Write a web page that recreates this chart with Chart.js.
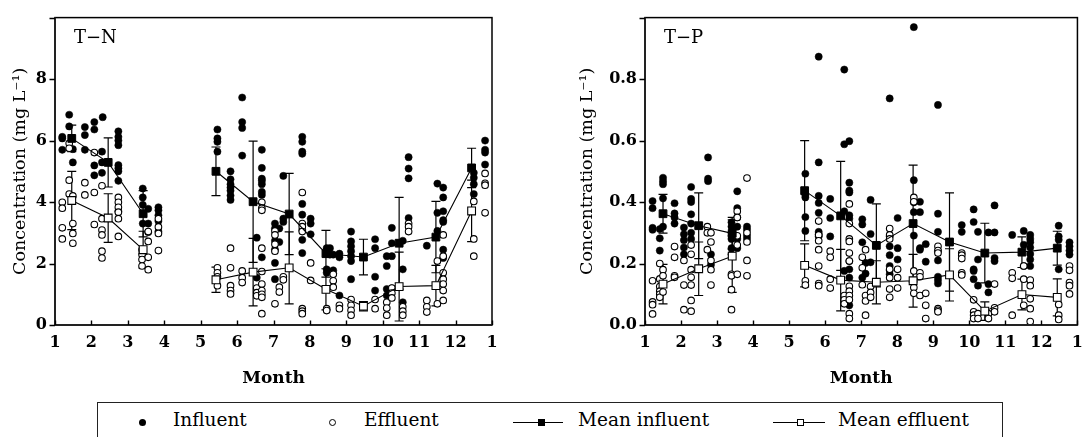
<!DOCTYPE html>
<html>
<head>
<meta charset="utf-8">
<script src="https://cdn.jsdelivr.net/npm/chart.js@4.4.1/dist/chart.umd.min.js"></script>
<style>
  html,body{margin:0;padding:0;background:#fff;}
  body{width:1091px;height:437px;overflow:hidden;position:relative;font-family:"DejaVu Serif",serif;color:#000;}
  canvas{position:absolute;top:0;}
  #legendBox{position:absolute;left:97px;top:402px;width:906px;height:60px;border:1.5px solid #222;box-sizing:border-box;}
  .lt{position:absolute;top:411px;font-size:18.5px;line-height:18.5px;white-space:nowrap;}
  .sym{position:absolute;box-sizing:border-box;}
</style>
</head>
<body>
<canvas id="tn" width="545" height="400" style="left:0"></canvas>
<canvas id="tp" width="546" height="400" style="left:545px"></canvas>
<div id="legendBox"></div>
<div class="sym" style="left:139px;top:419px;width:7px;height:7px;border-radius:50%;background:#000"></div>
<div class="lt" style="left:173px">Influent</div>
<div class="sym" style="left:329px;top:419px;width:7px;height:7px;border-radius:50%;border:1px solid #000;background:#fff"></div>
<div class="lt" style="left:364px">Effluent</div>
<div class="sym" style="left:513px;top:422px;width:50px;height:1.3px;background:#000"></div>
<div class="sym" style="left:538px;top:419px;width:7px;height:7px;background:#000"></div>
<div class="lt" style="left:578px">Mean influent</div>
<div class="sym" style="left:773px;top:422px;width:52px;height:1.3px;background:#000"></div>
<div class="sym" style="left:797px;top:419px;width:7px;height:7px;border:1px solid #000;background:#fff"></div>
<div class="lt" style="left:838px">Mean effluent</div>
<script>
// ---------------- DATA ----------------
const monthTicks = [1,2,3,4,5,6,7,8,9,10,11,12,13];
const monthLabels = ['1','2','3','4','5','6','7','8','9','10','11','12','1'];

// T-N  [month, mg/L]
const tnInfluent = [
 [1.20,6.12],[1.20,6.07],[1.20,5.70],[1.39,6.84],[1.39,6.46],[1.49,5.72],[1.49,5.29],
 [1.82,6.44],[1.82,6.18],[1.82,5.70],
 [2.08,6.60],[2.08,6.36],[2.08,5.19],[2.08,4.87],
 [2.31,6.76],[2.29,5.64],[2.29,5.29],[2.29,4.95],
 [2.74,6.30],[2.74,6.12],[2.74,6.00],[2.74,5.85],[2.74,5.20],[2.74,5.10],[2.74,5.00],[2.74,4.69],[2.74,3.70],
 [3.41,4.44],[3.41,4.15],[3.41,3.91],[3.41,3.30],
 [3.56,3.78],[3.56,3.30],[3.56,3.02],
 [3.84,3.83],[3.84,3.73],[3.84,3.57],[3.84,3.38],[3.84,3.04],
 [5.46,6.36],[5.46,6.07],[5.46,5.96],[5.46,5.64],
 [5.82,5.00],[5.82,4.74],[5.82,4.58],[5.82,4.47],[5.82,4.37],[5.82,4.21],[5.82,4.07],
 [6.14,7.40],[6.14,6.60],[6.14,6.41],[6.14,5.51],
 [6.54,2.84],[6.54,1.54],
 [6.68,5.70],[6.68,5.11],[6.68,4.76],[6.68,4.69],[6.68,4.58],[6.68,4.33],[6.68,4.23],[6.68,2.20],
 [7.04,3.30],[7.04,3.14],[7.04,2.74],[7.04,2.45],[7.04,2.02],[7.04,1.49],
 [7.16,3.14],[7.16,2.70],
 [7.27,4.85],[7.27,3.46],[7.27,3.35],
 [7.79,6.12],[7.79,5.96],[7.79,5.64],[7.79,5.57],[7.79,3.94],[7.79,3.59],[7.79,3.09],[7.79,2.77],[7.79,2.34],
 [8.02,3.46],[8.02,3.30],[8.02,2.95],
 [8.46,2.50],[8.46,2.32],[8.46,1.81],[8.46,1.70],
 [8.55,2.50],[8.55,2.29],
 [8.64,2.29],[8.64,1.78],[8.64,1.67],
 [8.81,2.32],[8.81,2.20],[8.81,0.96],
 [9.13,3.04],[9.13,2.72],[9.13,2.56],[9.13,2.40],[9.13,2.24],[9.13,2.08],[9.13,1.49],
 [9.79,2.79],[9.79,2.50],[9.79,1.57],[9.79,1.12],
 [10.11,2.24],[10.11,1.92],[10.11,1.17],[10.11,0.96],
 [10.25,3.16],[10.25,2.66],[10.25,2.24],[10.25,1.19],
 [10.55,2.74],[10.55,1.81],[10.55,0.74],
 [10.71,5.46],[10.71,5.09],[10.71,4.77],[10.71,3.48],
 [11.21,2.58],
 [11.50,4.60],[11.50,3.65],[11.50,3.06],
 [11.66,4.47],[11.66,4.15],[11.66,3.70],[11.66,3.41],[11.66,3.35],[11.66,2.45],[11.66,2.18],
 [12.50,4.95],[12.50,4.79],[12.50,4.58],[12.50,4.26],
 [12.81,6.00],[12.81,5.70],[12.81,5.61],[12.81,5.22]
];
const tnEffluent = [
 [1.20,3.99],[1.20,3.80],[1.20,3.16],[1.20,2.80],
 [1.39,5.91],[1.39,5.75],[1.39,4.71],[1.39,4.26],
 [1.49,4.20],[1.49,3.30],[1.49,2.98],[1.49,2.66],
 [1.82,4.63],[1.82,4.23],
 [2.08,5.61],[2.08,4.31],[2.08,3.27],
 [2.29,4.53],[2.29,3.46],[2.29,3.09],[2.29,2.93],[2.29,2.40],[2.29,2.18],
 [2.74,4.15],[2.74,3.99],[2.74,3.83],[2.74,3.67],[2.74,3.46],[2.74,2.88],
 [3.39,2.45],[3.39,2.29],[3.39,2.13],[3.39,1.92],
 [3.56,3.04],[3.56,2.72],[3.56,2.20],[3.56,1.80],
 [3.84,3.46],[3.84,3.19],[3.84,2.98],[3.84,2.42],
 [5.46,1.86],[5.46,1.70],[5.46,1.57],[5.46,1.28],
 [5.82,2.50],[5.82,1.86],[5.82,1.28],[5.82,1.12],[5.82,1.01],
 [6.14,1.76],[6.14,1.54],[6.14,1.38],
 [6.54,1.20],[6.54,1.05],[6.54,0.95],
 [6.68,3.99],[6.68,3.80],[6.68,3.73],[6.68,2.50],[6.68,1.74],[6.68,1.33],[6.68,1.12],[6.68,1.00],[6.68,0.90],[6.68,0.37],
 [7.04,3.06],[7.04,2.93],[7.04,2.63],[7.04,2.40],[7.04,0.69],
 [7.16,1.23],[7.16,1.07],
 [7.27,1.57],[7.27,1.47],
 [7.79,4.31],[7.79,3.30],[7.79,3.20],[7.79,3.04],[7.79,0.53],[7.79,0.45],[7.79,0.37],
 [8.02,2.02],[8.02,1.45],
 [8.46,0.53],[8.46,0.47],
 [8.64,1.65],[8.64,1.44],[8.64,1.23],
 [8.81,0.64],[8.81,0.53],
 [9.13,0.83],[9.13,0.64],[9.13,0.48],[9.13,0.32],
 [9.79,0.83],[9.79,0.53],
 [10.11,0.74],[10.11,0.55],[10.11,0.32],
 [10.25,1.20],[10.25,1.04],[10.25,0.88],
 [10.55,0.59],[10.55,0.45],[10.55,0.32],
 [10.71,3.30],[10.71,3.20],[10.71,3.04],
 [11.21,0.80],[11.21,0.59],[11.21,0.42],
 [11.50,2.08],[11.50,0.69],
 [11.66,2.93],[11.66,2.24],[11.66,1.70],[11.66,1.49],[11.66,1.33],[11.66,1.12],[11.66,0.80],
 [12.50,4.02],[12.50,2.80],[12.50,2.24],
 [12.81,4.93],[12.81,4.61],[12.81,4.55],[12.81,3.65]
];
const tnMeanMonths   = [1.46,2.46,3.42,5.42,6.44,7.43,8.44,9.47,10.45,11.46,12.44];
const tnMeanInfluent = [6.07,5.29,3.62,5.00,4.01,3.61,2.32,2.21,2.66,2.86,5.11];
const tnSdInfluent   = [0.43,0.80,0.75,0.79,1.97,1.32,0.76,0.58,1.49,1.16,0.64];
const tnMeanEffluent = [4.05,3.48,2.45,1.47,1.72,1.86,1.16,0.61,1.25,1.28,3.71];
const tnSdEffluent   = [0.95,0.79,0.60,0.41,1.10,1.17,0.67,0.15,1.12,0.66,1.00];

// T-P  [month, mg/L]
const tpInfluent = [
 [1.21,0.403],[1.21,0.380],[1.21,0.316],[1.21,0.310],
 [1.41,0.312],[1.41,0.282],[1.41,0.242],
 [1.50,0.479],[1.50,0.468],[1.50,0.458],[1.50,0.412],[1.50,0.320],
 [1.82,0.396],[1.82,0.363],[1.82,0.350],[1.82,0.330],
 [2.08,0.317],[2.08,0.295],[2.08,0.276],[2.08,0.252],[2.08,0.230],
 [2.28,0.449],[2.28,0.410],[2.28,0.400],[2.28,0.360],[2.28,0.330],[2.28,0.300],[2.28,0.280],
 [2.75,0.545],[2.75,0.476],[2.75,0.468],
 [2.83,0.230],[2.83,0.196],
 [3.40,0.334],[3.40,0.320],[3.40,0.300],[3.40,0.290],[3.40,0.280],[3.40,0.250],[3.40,0.230],
 [3.56,0.435],[3.56,0.380],[3.56,0.350],[3.56,0.320],[3.56,0.280],[3.56,0.250],
 [3.83,0.320],[3.83,0.310],[3.83,0.290],[3.83,0.280],
 [5.45,0.492],[5.45,0.423],[5.45,0.415],[5.45,0.351],[5.45,0.306],
 [5.82,0.873],[5.82,0.529],[5.82,0.420],[5.82,0.397],[5.82,0.365],[5.82,0.303],[5.82,0.295],[5.82,0.288],
 [6.14,0.410],[6.14,0.348],[6.14,0.288],
 [6.53,0.831],[6.53,0.588],[6.53,0.370],[6.53,0.176],
 [6.67,0.598],[6.67,0.463],[6.67,0.437],[6.67,0.431],[6.67,0.357],[6.67,0.346],[6.67,0.208],[6.67,0.181],[6.67,0.154],[6.67,0.064],
 [7.03,0.344],[7.03,0.327],[7.03,0.269],[7.03,0.154],
 [7.12,0.202],[7.12,0.167],
 [7.26,0.407],[7.26,0.296],[7.26,0.204],
 [7.79,0.737],[7.79,0.288],[7.79,0.256],[7.79,0.227],[7.79,0.192],[7.79,0.178],[7.79,0.165],
 [8.01,0.348],[8.01,0.250],[8.01,0.213],
 [8.46,0.969],[8.46,0.471],[8.46,0.399],[8.46,0.367],[8.46,0.291],
 [8.63,0.401],[8.63,0.367],[8.63,0.245],[8.63,0.250],
 [8.79,0.263],[8.79,0.206],
 [9.13,0.716],[9.13,0.362],[9.13,0.303],[9.13,0.240],[9.13,0.210],[9.13,0.157],[9.13,0.146],[9.13,0.135],
 [9.79,0.325],[9.79,0.303],
 [10.12,0.376],[10.12,0.335],[10.12,0.181],[10.12,0.176],[10.12,0.149],
 [10.24,0.303],[10.24,0.213],[10.24,0.128],
 [10.53,0.301],[10.53,0.133],[10.53,0.106],
 [10.70,0.389],[10.70,0.301],[10.70,0.218],[10.70,0.208],
 [11.19,0.293],
 [11.51,0.306],[11.51,0.261],[11.51,0.192],
 [11.69,0.293],[11.69,0.280],[11.69,0.269],[11.69,0.252],[11.69,0.231],[11.69,0.213],[11.69,0.192],
 [12.48,0.323],[12.48,0.288],[12.48,0.277],[12.48,0.181],
 [12.78,0.269],[12.78,0.256],[12.78,0.242],[12.78,0.229]
];
const tpEffluent = [
 [1.21,0.144],[1.21,0.075],[1.21,0.066],[1.21,0.036],
 [1.41,0.200],[1.41,0.150],[1.41,0.125],[1.41,0.110],[1.41,0.100],[1.41,0.090],
 [1.50,0.180],[1.50,0.160],[1.50,0.107],
 [1.82,0.255],[1.82,0.220],[1.82,0.160],[1.82,0.155],
 [2.08,0.210],[2.08,0.130],[2.08,0.050],
 [2.28,0.260],[2.28,0.230],[2.28,0.180],[2.28,0.155],[2.28,0.130],[2.28,0.080],[2.28,0.045],
 [2.73,0.320],[2.73,0.300],[2.73,0.245],
 [2.83,0.300],[2.83,0.270],[2.83,0.210],[2.83,0.180],[2.83,0.130],
 [3.40,0.165],[3.40,0.160],[3.40,0.115],[3.40,0.050],
 [3.56,0.370],[3.56,0.350],[3.56,0.290],[3.56,0.260],[3.56,0.165],
 [3.83,0.478],[3.83,0.300],[3.83,0.270],[3.83,0.210],[3.83,0.160],
 [5.45,0.144],[5.45,0.130],
 [5.82,0.338],[5.82,0.293],[5.82,0.274],[5.82,0.245],[5.82,0.192],[5.82,0.135],[5.82,0.128],
 [6.14,0.240],[6.14,0.220],[6.14,0.149],[6.14,0.120],
 [6.53,0.096],[6.53,0.082],[6.53,0.069],
 [6.67,0.394],[6.67,0.330],[6.67,0.280],[6.67,0.272],[6.67,0.234],[6.67,0.208],[6.67,0.126],[6.67,0.110],[6.67,0.096],[6.67,0.082],[6.67,0.037],[6.67,0.021],
 [7.03,0.220],[7.03,0.186],[7.03,0.131],
 [7.12,0.245],[7.12,0.096],[7.12,0.078],[7.12,0.032],
 [7.26,0.125],[7.26,0.106],[7.26,0.090],
 [7.79,0.314],[7.79,0.293],[7.79,0.280],[7.79,0.181],[7.79,0.154],[7.79,0.117],[7.79,0.090],
 [8.01,0.181],[8.01,0.154],[8.01,0.120],
 [8.46,0.415],[8.46,0.401],[8.46,0.176],[8.46,0.122],[8.46,0.103],
 [8.63,0.170],[8.63,0.157],[8.63,0.096],
 [8.79,0.103],[8.79,0.064],[8.79,0.021],
 [9.13,0.256],[9.13,0.242],[9.13,0.234],[9.13,0.053],[9.13,0.048],[9.13,0.043],
 [9.79,0.234],[9.79,0.227],[9.79,0.216],[9.79,0.170],[9.79,0.163],
 [10.12,0.082],[10.12,0.043],[10.12,0.032],[10.12,0.021],
 [10.24,0.037],[10.24,0.021],
 [10.53,0.037],[10.53,0.021],
 [10.70,0.133],[10.70,0.056],[10.70,0.043],
 [11.19,0.170],[11.19,0.152],[11.19,0.032],
 [11.51,0.192],[11.51,0.149],[11.51,0.064],
 [11.69,0.146],[11.69,0.128],[11.69,0.085],[11.69,0.053],[11.69,0.011],
 [12.48,0.067],[12.48,0.032],[12.48,0.018],
 [12.78,0.192],[12.78,0.178],[12.78,0.138],[12.78,0.128],[12.78,0.101]
];
const tpMeanMonths   = [1.50,2.49,3.42,5.43,6.43,7.42,8.44,9.45,10.43,11.46,12.44];
const tpMeanInfluent = [0.362,0.323,0.298,0.437,0.355,0.259,0.330,0.270,0.234,0.237,0.250];
const tpSdInfluent   = [0.063,0.107,0.052,0.163,0.177,0.135,0.190,0.160,0.097,0.050,0.055];
const tpMeanEffluent = [0.133,0.183,0.224,0.194,0.146,0.139,0.144,0.163,0.045,0.099,0.090];
const tpSdEffluent   = [0.064,0.087,0.118,0.070,0.100,0.070,0.086,0.085,0.030,0.050,0.060];

// ---------------- DRAWING ----------------
const FONT = '"DejaVu Serif", serif';
const toXY = arr => arr.map(([x, y]) => ({x, y}));
function meanLine(months, means) {
  const out = [];
  months.forEach((m, i) => {
    if (i > 0 && m - months[i - 1] > 1.5) out.push({x: (m + months[i - 1]) / 2, y: null});
    out.push({x: m, y: means[i]});
  });
  return out;
}

const panelPlugin = {
  id: 'panel',
  beforeDatasetsDraw(chart) {
    const o = chart.options.plugins.panel;
    const {ctx} = chart; const xs = chart.scales.x, ys = chart.scales.y;
    ctx.save(); ctx.strokeStyle = '#000'; ctx.lineWidth = 1.2;
    o.errorBars.forEach(set => set.months.forEach((m, i) => {
      const x = xs.getPixelForValue(m);
      const y1 = ys.getPixelForValue(set.mean[i] + set.sd[i]);
      const y2 = ys.getPixelForValue(set.mean[i] - set.sd[i]);
      ctx.beginPath();
      ctx.moveTo(x, y1); ctx.lineTo(x, y2);
      ctx.moveTo(x - 4.5, y1); ctx.lineTo(x + 4.5, y1);
      ctx.moveTo(x - 4.5, y2); ctx.lineTo(x + 4.5, y2);
      ctx.stroke();
    }));
    ctx.restore();
  },
  afterDraw(chart) {
    const o = chart.options.plugins.panel;
    const {ctx, chartArea: a} = chart; const xs = chart.scales.x, ys = chart.scales.y;
    ctx.save();
    ctx.strokeStyle = '#000'; ctx.lineWidth = 1.5;
    ctx.strokeRect(a.left, a.top, a.right - a.left, a.bottom - a.top);
    ctx.strokeStyle = '#222'; ctx.lineWidth = 2;
    ctx.beginPath();
    ctx.moveTo(a.left, a.top); ctx.lineTo(a.left, a.bottom); ctx.lineTo(a.right, a.bottom);
    ctx.stroke();
    ctx.strokeStyle = '#000'; ctx.lineWidth = 1.4;
    ctx.beginPath();
    xs.ticks.forEach(t => { const x = Math.round(xs.getPixelForValue(t.value)) + 0.5; ctx.moveTo(x, a.bottom); ctx.lineTo(x, a.bottom - 4.5); });
    ys.ticks.forEach(t => { const y = Math.round(ys.getPixelForValue(t.value)) + 0.5; ctx.moveTo(a.left, y); ctx.lineTo(a.left - 5.5, y); });
    ctx.stroke();
    ctx.fillStyle = '#000';
    ctx.font = '18px ' + FONT;
    ctx.textBaseline = 'alphabetic';
    ctx.fillText(o.label, a.left + 19, a.top + 25);
    ctx.restore();
  }
};

function makePanel(id, cfg) {
  new Chart(document.getElementById(id), {
    type: 'scatter',
    data: {
      datasets: [
        {data: meanLine(cfg.months, cfg.meanIn), showLine: true, spanGaps: false, borderColor: '#000', borderWidth: 1.1,
         pointStyle: 'rect', pointRadius: 5.5, pointBackgroundColor: '#000', pointBorderColor: '#000', pointBorderWidth: 1, order: 0},
        {data: meanLine(cfg.months, cfg.meanEf), showLine: true, spanGaps: false, borderColor: '#000', borderWidth: 1.1,
         pointStyle: 'rect', pointRadius: 5.5, pointBackgroundColor: '#fff', pointBorderColor: '#000', pointBorderWidth: 1.1, order: 0},
        {data: toXY(cfg.influent), showLine: false, pointStyle: 'circle', pointRadius: 3.6,
         pointBackgroundColor: '#000', pointBorderColor: '#000', pointBorderWidth: 0.5, order: 2},
        {data: toXY(cfg.effluent), showLine: false, pointStyle: 'circle', pointRadius: 3.3,
         pointBackgroundColor: '#fff', pointBorderColor: '#000', pointBorderWidth: 1.1, order: 1}
      ]
    },
    options: {
      responsive: false, animation: false, devicePixelRatio: 1, events: [],
      layout: {padding: {left: 0, top: 12, right: cfg.padRight, bottom: 0}},
      plugins: {
        legend: {display: false}, tooltip: {enabled: false},
        panel: {label: cfg.label, errorBars: [
          {months: cfg.months, mean: cfg.meanIn, sd: cfg.sdIn},
          {months: cfg.months, mean: cfg.meanEf, sd: cfg.sdEf}]}
      },
      scales: {
        x: {
          type: 'linear', min: 1, max: 13,
          afterBuildTicks: s => { s.ticks = monthTicks.map(v => ({value: v})); },
          afterFit: s => { s.height = 75; },
          grid: {display: false, drawTicks: false}, border: {display: false},
          ticks: {autoSkip: false, maxRotation: 0, padding: 8, color: '#000', font: {family: FONT, size: 16, weight: 'bold'},
                  callback: v => monthLabels[monthTicks.indexOf(v)] ?? ''},
          title: {display: true, text: 'Month', color: '#000', font: {family: FONT, size: 17, weight: 'bold'}, padding: {top: 0, bottom: 11}}
        },
        y: {
          type: 'linear', min: 0, max: cfg.yMax,
          afterBuildTicks: s => { s.ticks = cfg.yTicks.map(v => ({value: v})); },
          afterFit: s => { s.width = cfg.yWidth; },
          grid: {display: false, drawTicks: false}, border: {display: false},
          ticks: {padding: 8, color: '#000', font: {family: FONT, size: 16, weight: 'bold'},
                  callback: v => cfg.yLabels[cfg.yTicks.indexOf(v)] ?? ''},
          title: {display: true, text: 'Concentration (mg L\u207B\u00B9)', color: '#000', font: {family: FONT, size: 17.5},
                  padding: {top: cfg.titlePad, bottom: 0}}
        }
      }
    },
    plugins: [panelPlugin]
  });
}

const tnYTicks = [0, 2, 4, 6, 8, 10];
const tnYLabels = ['0', '2', '4', '6', '8', ''];
const tpYTicks = [0, 0.2, 0.4, 0.6, 0.8, 1.0];
const tpYLabels = ['0.0', '0.2', '0.4', '0.6', '0.8', ''];

makePanel('tn', {label: 'T\u2212N', influent: tnInfluent, effluent: tnEffluent, months: tnMeanMonths,
  meanIn: tnMeanInfluent, sdIn: tnSdInfluent, meanEf: tnMeanEffluent, sdEf: tnSdEffluent,
  yMax: 10, yTicks: tnYTicks, yLabels: tnYLabels, yWidth: 55, padRight: 53, titlePad: 10});
makePanel('tp', {label: 'T\u2212P', influent: tpInfluent, effluent: tpEffluent, months: tpMeanMonths,
  meanIn: tpMeanInfluent, sdIn: tpSdInfluent, meanEf: tpMeanEffluent, sdEf: tpSdEffluent,
  yMax: 1.0, yTicks: tpYTicks, yLabels: tpYLabels, yWidth: 100, padRight: 8, titlePad: 32});
</script>
</body>
</html>
